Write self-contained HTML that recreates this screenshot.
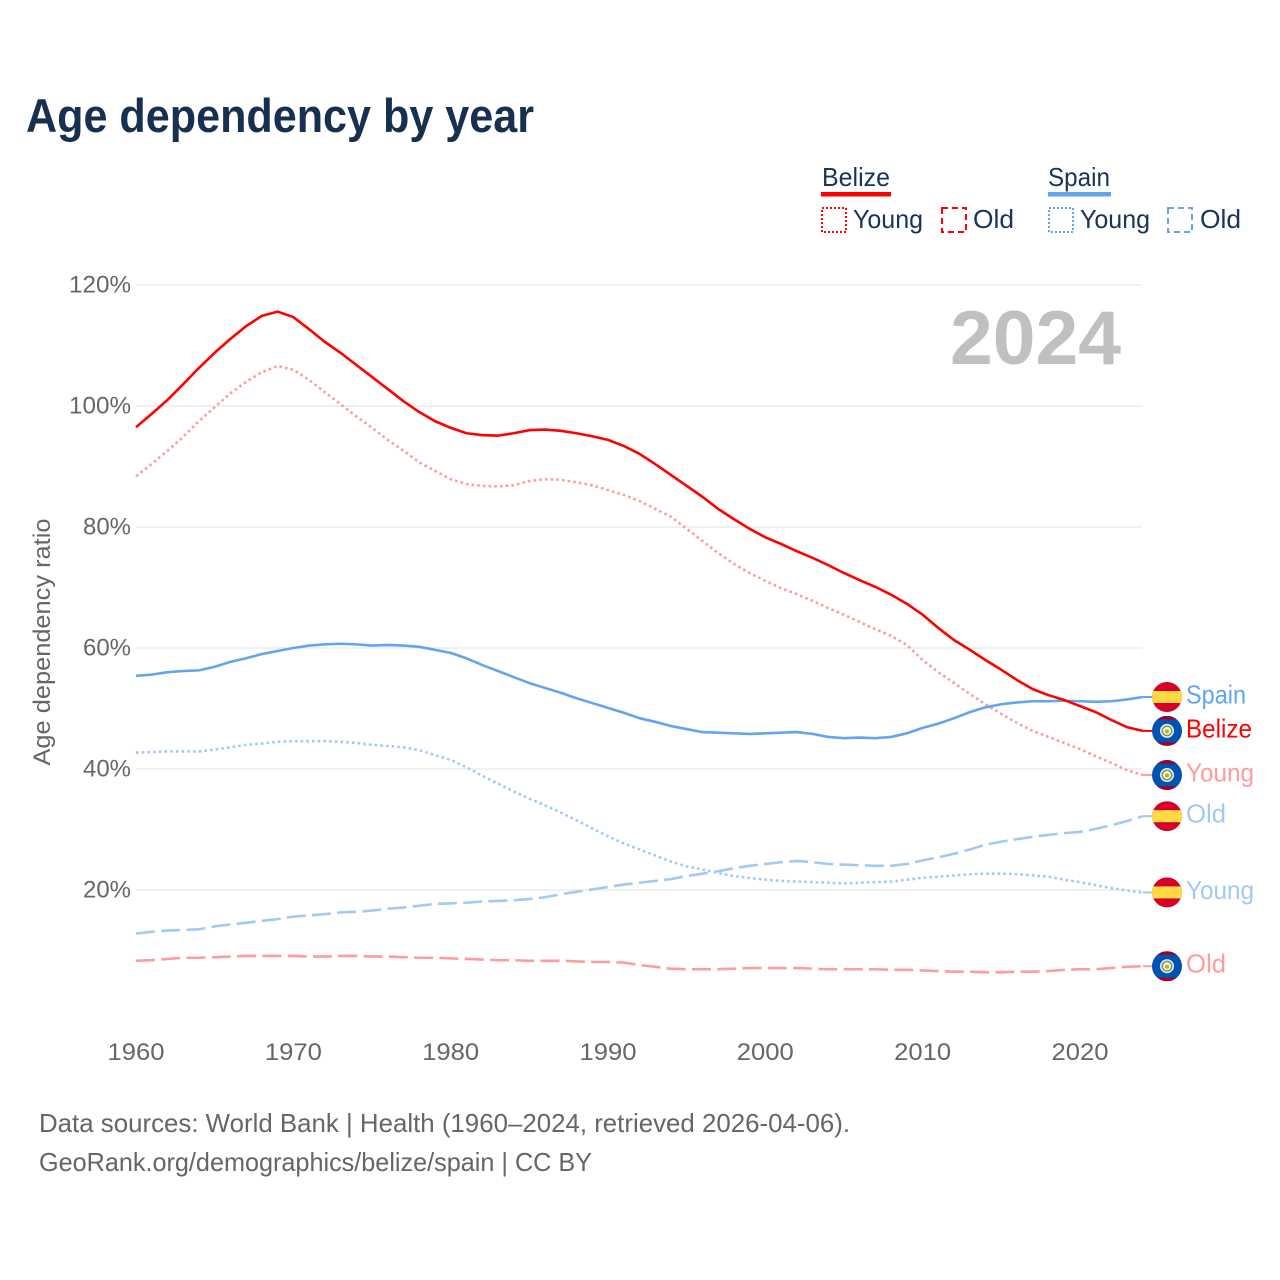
<!DOCTYPE html>
<html lang="en">
<head>
<meta charset="utf-8">
<title>Age dependency by year</title>
<style>
html,body{margin:0;padding:0;background:#fff;width:1280px;height:1280px;overflow:hidden}
svg{display:block}
text{font-family:"Liberation Sans",sans-serif}
</style>
</head>
<body>
<svg id="chart" xmlns="http://www.w3.org/2000/svg" width="1280" height="1280" viewBox="0 0 1280 1280">
  <rect x="0" y="0" width="1280" height="1280" fill="#ffffff"/>
  <text x="26" y="132" font-size="47" font-weight="700" fill="#17304f" textLength="508" lengthAdjust="spacingAndGlyphs">Age dependency by year</text>

  <g font-size="26" fill="#1a3358">
    <text x="822" y="186" textLength="68" lengthAdjust="spacingAndGlyphs">Belize</text>
    <rect x="821" y="192" width="70" height="4.5" fill="#ff0000"/>
    <rect x="822" y="208" width="24" height="24" fill="none" stroke="#ff0000" stroke-width="2" stroke-dasharray="2 2"/>
    <text x="853" y="228" textLength="70" lengthAdjust="spacingAndGlyphs">Young</text>
    <rect x="942" y="208" width="24" height="24" fill="none" stroke="#ff0000" stroke-width="2" stroke-dasharray="6 4"/>
    <text x="973" y="228" textLength="41" lengthAdjust="spacingAndGlyphs">Old</text>
    <text x="1048" y="186" textLength="62" lengthAdjust="spacingAndGlyphs">Spain</text>
    <rect x="1048" y="192" width="63" height="4.5" fill="#62a5ee"/>
    <rect x="1049" y="208" width="24" height="24" fill="none" stroke="#62a5ee" stroke-width="2" stroke-dasharray="2 2"/>
    <text x="1080" y="228" textLength="70" lengthAdjust="spacingAndGlyphs">Young</text>
    <rect x="1168" y="208" width="24" height="24" fill="none" stroke="#62a5ee" stroke-width="2" stroke-dasharray="6 4"/>
    <text x="1200" y="228" textLength="41" lengthAdjust="spacingAndGlyphs">Old</text>
  </g>

  <g id="grid"></g>
  <g id="yticks"></g>
  <g id="xticks"></g>
  <text transform="translate(50,642) rotate(-90)" text-anchor="middle" font-size="24" fill="#666666" textLength="247" lengthAdjust="spacingAndGlyphs">Age dependency ratio</text>
  <text x="950" y="364" font-size="76" font-weight="700" fill="#c0c0c0" textLength="171" lengthAdjust="spacingAndGlyphs">2024</text>
  <g id="series"></g>
  <g id="ends"></g>

  <text x="39" y="1132" font-size="26" fill="#666666" textLength="811" lengthAdjust="spacingAndGlyphs">Data sources: World Bank | Health (1960–2024, retrieved 2026-04-06).</text>
  <text x="39" y="1171" font-size="26" fill="#666666" textLength="553" lengthAdjust="spacingAndGlyphs">GeoRank.org/demographics/belize/spain | CC BY</text>
</svg>
<script>
const startYear = 1960;
const yTickValues = [20, 40, 60, 80, 100, 120];
const yTickLabels = ["20%", "40%", "60%", "80%", "100%", "120%"];
const xTickValues = [1960, 1970, 1980, 1990, 2000, 2010, 2020];
const xTickLabels = ["1960", "1970", "1980", "1990", "2000", "2010", "2020"];

const belizeTotal = [96.5,98.7,101.0,103.6,106.3,108.8,111.1,113.2,114.9,115.6,114.7,112.7,110.6,108.8,106.8,104.8,102.8,100.8,99.0,97.5,96.4,95.5,95.2,95.1,95.5,96.0,96.1,95.9,95.5,95.0,94.4,93.4,92.1,90.4,88.6,86.8,85.0,83.0,81.3,79.7,78.3,77.2,76.0,74.9,73.7,72.4,71.2,70.1,68.8,67.3,65.5,63.3,61.3,59.7,58.0,56.4,54.7,53.2,52.2,51.4,50.4,49.4,48.1,46.9,46.3];
const belizeYoung = [88.4,90.4,92.6,94.9,97.5,99.8,102.1,104.0,105.6,106.6,106.0,104.3,102.3,100.3,98.3,96.4,94.4,92.6,90.7,89.3,87.9,87.1,86.8,86.7,86.9,87.6,87.9,87.8,87.4,86.9,86.1,85.3,84.3,83.0,81.7,79.7,77.7,75.7,73.9,72.4,71.1,69.9,68.9,67.8,66.6,65.5,64.3,63.1,62.0,60.5,58.0,56.0,54.2,52.4,50.7,49.1,47.6,46.3,45.3,44.3,43.3,42.1,41.0,39.8,39.0];
const belizeOld = [8.3,8.4,8.6,8.8,8.8,8.9,9.0,9.1,9.1,9.1,9.1,9.0,9.0,9.1,9.1,9.0,9.0,8.9,8.8,8.8,8.7,8.6,8.5,8.4,8.4,8.3,8.3,8.3,8.2,8.1,8.1,8.0,7.6,7.3,7.0,6.9,6.9,6.9,7.0,7.1,7.1,7.1,7.1,7.0,6.9,6.9,6.9,6.9,6.8,6.8,6.7,6.6,6.5,6.5,6.4,6.4,6.5,6.5,6.6,6.8,6.9,6.9,7.1,7.3,7.4];
const spainTotal = [55.4,55.6,56.0,56.2,56.3,56.9,57.7,58.3,59.0,59.5,60.0,60.4,60.6,60.7,60.6,60.4,60.5,60.4,60.2,59.7,59.2,58.3,57.2,56.2,55.2,54.2,53.4,52.6,51.7,50.9,50.1,49.3,48.4,47.8,47.1,46.6,46.1,46.0,45.9,45.8,45.9,46.0,46.1,45.8,45.3,45.1,45.2,45.1,45.3,45.9,46.8,47.5,48.4,49.4,50.2,50.7,51.0,51.2,51.2,51.3,51.2,51.1,51.2,51.5,51.9];
const spainYoung = [42.7,42.8,42.9,42.9,42.9,43.2,43.6,44.0,44.2,44.5,44.6,44.6,44.6,44.5,44.3,44.0,43.8,43.6,43.1,42.3,41.5,40.3,38.9,37.6,36.3,35.1,34.0,32.8,31.5,30.2,28.9,27.7,26.7,25.7,24.7,23.9,23.4,22.8,22.3,22.0,21.7,21.5,21.4,21.3,21.2,21.1,21.2,21.3,21.4,21.7,22.0,22.2,22.4,22.6,22.7,22.7,22.6,22.4,22.2,21.7,21.3,20.8,20.3,19.9,19.6];
const spainOld = [12.8,13.1,13.3,13.4,13.5,14.0,14.3,14.6,14.9,15.2,15.6,15.8,16.0,16.3,16.4,16.6,16.9,17.1,17.4,17.7,17.8,17.9,18.1,18.2,18.3,18.5,18.8,19.3,19.7,20.1,20.5,20.9,21.2,21.5,21.8,22.3,22.7,23.1,23.6,24.0,24.3,24.6,24.8,24.6,24.3,24.2,24.1,24.0,24.0,24.3,24.9,25.4,26.0,26.7,27.5,28.0,28.4,28.8,29.1,29.4,29.6,30.1,30.7,31.4,32.2];

const NS = "http://www.w3.org/2000/svg";
function xScale(year) { return 136 + (year - 1960) * 15.733; }
function yScale(value) { return 1011 - value * 6.05; }

function make(tag, attrs, parent, content) {
  const el = document.createElementNS(NS, tag);
  for (const k in attrs) el.setAttribute(k, attrs[k]);
  if (content !== undefined) el.textContent = content;
  parent.appendChild(el);
  return el;
}

const gridG = document.getElementById("grid");
const yTickG = document.getElementById("yticks");
yTickValues.forEach(function (v, i) {
  const y = yScale(v);
  const line = make("line", {x1: 136, x2: 1142, y1: y, y2: y, stroke: "#e8e8e8", "stroke-width": 1.2}, gridG);
  
  
  const w = yTickLabels[i].length === 4 ? 62 : 48;
  const t = make("text", {x: 131, y: y + 7.5, "text-anchor": "end", "font-size": 24, fill: "#666666", textLength: w, lengthAdjust: "spacingAndGlyphs"}, yTickG, yTickLabels[i]);
  
  
});

const xTickG = document.getElementById("xticks");
xTickValues.forEach(function (v, i) {
  const t = make("text", {x: xScale(v), y: 1060, "text-anchor": "middle", "font-size": 24, fill: "#666666", textLength: 57, lengthAdjust: "spacingAndGlyphs"}, xTickG, xTickLabels[i]);
  
  
});

function pathFor(values) {
  return values.map(function (v, i) {
    return (i ? "L" : "M") + xScale(startYear + i).toFixed(2) + " " + yScale(v).toFixed(2);
  }).join(" ");
}

const seriesG = document.getElementById("series");
function drawLine(values, color, dash, name) {
  const p = make("path", {d: pathFor(values), fill: "none", stroke: color, "stroke-width": 2.6, "stroke-linejoin": "round"}, seriesG);
  if (dash) p.setAttribute("stroke-dasharray", dash);
  
  
}
const DOT = "2.6 3.1";
const DASH = "19 6.3";
drawLine(belizeOld, "#ff9c9c", DASH, "belize-old-line");
drawLine(belizeYoung, "#ff9c9c", DOT, "belize-young-line");
drawLine(spainOld, "#a2c9f3", DASH, "spain-old-line");
drawLine(spainYoung, "#a2c9f3", DOT, "spain-young-line");
drawLine(spainTotal, "#62a5ee", null, "spain-total-line");
drawLine(belizeTotal, "#ff0000", null, "belize-total-line");

const endsG = document.getElementById("ends");
function flagSpain(g, cy) {
  const clipId = "clip" + Math.round(cy);
  const cp = make("clipPath", {id: clipId}, g);
  make("circle", {cx: 1167, cy: cy, r: 15}, cp);
  const inner = make("g", {"clip-path": "url(#" + clipId + ")"}, g);
  make("rect", {x: 1152, y: cy - 15, width: 30, height: 30, fill: "#d80027"}, inner);
  make("rect", {x: 1152, y: cy - 6, width: 30, height: 12, fill: "#ffda44"}, inner);
}
function flagBelize(g, cy) {
  const clipId = "clip" + Math.round(cy);
  const cp = make("clipPath", {id: clipId}, g);
  make("circle", {cx: 1167, cy: cy, r: 15}, cp);
  const inner = make("g", {"clip-path": "url(#" + clipId + ")"}, g);
  make("rect", {x: 1152, y: cy - 15, width: 30, height: 30, fill: "#0052b4"}, inner);
  make("rect", {x: 1152, y: cy - 15, width: 30, height: 3.5, fill: "#a2001d"}, inner);
  make("rect", {x: 1152, y: cy + 11.5, width: 30, height: 3.5, fill: "#a2001d"}, inner);
  make("circle", {cx: 1167, cy: cy, r: 7, fill: "#f0f0f0"}, inner);
  make("circle", {cx: 1167, cy: cy, r: 4.8, fill: "#f0f0f0", stroke: "#6da544", "stroke-width": 1.5}, inner);
  make("circle", {cx: 1167, cy: cy + 0.5, r: 2, fill: "#c9a82c"}, inner);
}
function endLabel(values, color, connector, flag, label, width, name) {
  const last = values[values.length - 1];
  const y = yScale(last);
  const g = make("g", {}, endsG);
  
  
  make("line", {x1: xScale(2024), x2: 1152, y1: y, y2: y, stroke: connector, "stroke-width": 2}, g);
  flag(g, y);
  const t = make("text", {x: 1186, y: y + 6.5, "font-size": 26, fill: color, textLength: width, lengthAdjust: "spacingAndGlyphs"}, g, label);
  
  
}
endLabel(spainTotal, "#62a5ee", "#62a5ee", flagSpain, "Spain", 60, "spain-total-end-label");
endLabel(belizeTotal, "#ff0000", "#ff0000", flagBelize, "Belize", 66, "belize-total-end-label");
endLabel(belizeYoung, "#ff9c9c", "#ff9c9c", flagBelize, "Young", 68, "belize-young-end-label");
endLabel(spainOld, "#a2c9f3", "#a2c9f3", flagSpain, "Old", 40, "spain-old-end-label");
endLabel(spainYoung, "#a2c9f3", "#a2c9f3", flagSpain, "Young", 68, "spain-young-end-label");
endLabel(belizeOld, "#ff9c9c", "#ff9c9c", flagBelize, "Old", 40, "belize-old-end-label");
</script>
</body>
</html>
